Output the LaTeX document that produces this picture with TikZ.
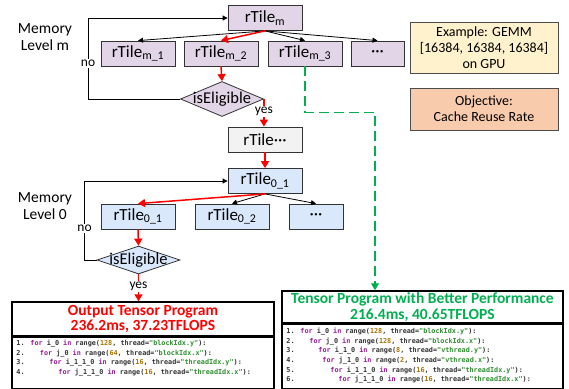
\documentclass[tikz,border=0pt]{standalone}
\usepackage{fontspec}
\setmainfont{Carlito}
\newfontfamily\codefont{DejaVu Sans Mono}
\usetikzlibrary{shapes.geometric,arrows.meta}
\definecolor{purp}{HTML}{E1D5E7}
\definecolor{lblue}{HTML}{DAE8FC}
\definecolor{lgray}{HTML}{F2F2F2}
\definecolor{lyellow}{HTML}{FFF2CC}
\definecolor{lorange}{HTML}{F8CBAD}
\definecolor{pgreen}{HTML}{00B050}
\definecolor{kwcol}{HTML}{9A1A98}
\definecolor{numcol}{HTML}{A87400}
\definecolor{strcol}{HTML}{2E8E30}
\definecolor{txtcol}{HTML}{333333}
\newcommand\kw[1]{\textcolor{kwcol}{#1}}
\newcommand\nm[1]{\textcolor{numcol}{#1}}
\newcommand\st[1]{\textcolor{strcol}{#1}}
\newcommand\codeln[3]{\makebox[14pt][l]{#1.}\hspace*{#2pt}#3}
\begin{document}
\begin{tikzpicture}[x=1pt,y=-1pt,
    tile/.style={draw=black!80,line width=0.8pt,minimum width=74pt,minimum height=25pt,
        inner sep=0pt,font=\fontsize{17}{20}\selectfont},
    elig/.style={diamond,draw=black!80,line width=0.8pt,minimum width=83pt,inner sep=0pt},
    dlabel/.style={font=\fontsize{16.5}{18}\selectfont},
    lbl/.style={font=\fontsize{13.5}{15}\selectfont,text=black,fill=white,inner sep=1pt},
    memlbl/.style={align=center,font=\fontsize{15.5}{17}\selectfont},
    note/.style={draw=black!70,line width=1pt,minimum width=148pt,align=center,
        font=\fontsize{14}{16}\selectfont},
    titlebox/.style={draw,line width=1.5pt,align=center,inner sep=0pt,
        font=\bfseries\fontsize{15.5}{15.5}\selectfont},
    codebox/.style={draw,line width=1.5pt,inner sep=0pt},
    code/.style={align=left,inner sep=0pt,text=txtcol,
        font=\codefont\bfseries\fontsize{6.8}{9.7}\selectfont},
    arr/.style={-{Triangle[length=5pt,width=5pt]},line width=0.8pt},
    redarr/.style={red,line width=1.5pt,-{Triangle[length=7pt,width=8pt]}}]
    \useasboundingbox (0,0) rectangle (569,388);

    % memory level m
    \node[memlbl] (memm) at (45,37) {Memory\\Level m};
    \node[tile,fill=purp] (tm) at (265,18) {rTile\textsubscript{m}};
    \node[tile,fill=purp] (tm1) at (138,53.5) {rTile\textsubscript{m\_1}};
    \node[tile,fill=purp] (tm2) at (221,53.5) {rTile\textsubscript{m\_2}};
    \node[tile,fill=purp] (tm3) at (305,53.5) {rTile\textsubscript{m\_3}};
    \node[tile,fill=purp,minimum width=53pt] (tmd) at (377.5,53.5) {···};
    \node[elig,fill=purp,minimum height=35pt,label={[dlabel]center:isEligible}] (elm) at (222,99) {};

    % memory level 0
    \node[tile,fill=lgray] (tdots) at (265,139.5) {rTile···};
    \node[memlbl] (mem0) at (45,206) {Memory\\Level 0};
    \node[tile,fill=lblue] (t01) at (265,181) {rTile\textsubscript{0\_1}};
    \node[tile,fill=lblue] (c01) at (138,216.5) {rTile\textsubscript{0\_1}};
    \node[tile,fill=lblue] (c02) at (232,216.5) {rTile\textsubscript{0\_2}};
    \node[tile,fill=lblue,minimum width=54pt] (c0d) at (316,216.5) {···};
    \node[elig,fill=lblue,minimum height=28pt,label={[dlabel]center:isEligible}] (el0) at (138.5,260) {};

    % side notes
    \node[note,fill=lyellow,minimum height=51pt] (ex) at (484,47.5)
        {Example: GEMM\\{[16384, 16384, 16384]}\\on GPU};
    \node[note,fill=lorange,minimum height=42pt] (obj) at (484,109)
        {Objective:\\Cache Reuse Rate};

    % output programs
    \node[titlebox,text=red,minimum width=262pt,minimum height=34pt] (out) at (143,319)
        {Output Tensor Program\\236.2ms, 37.23TFLOPS};
    \node[codebox,minimum width=262pt,minimum height=51pt,anchor=north] (outcode) at (out.south) {};
    \node[code,anchor=north west] (outtxt) at ([shift={(5,3)}]outcode.north west)
        {\codeln{1}{0}{\kw{for} i\_0 \kw{in} range(\nm{128}, thread=\st{"blockIdx.y"}):}\\
         \codeln{2}{9.5}{\kw{for} j\_0 \kw{in} range(\nm{64}, thread=\st{"blockIdx.x"}):}\\
         \codeln{3}{19}{\kw{for} i\_1\_1\_0 \kw{in} range(\nm{16}, thread=\st{"threadIdx.y"}):}\\
         \codeln{4}{28}{\kw{for} j\_1\_1\_0 \kw{in} range(\nm{16}, thread=\st{"threadIdx.x"}):}};

    \node[titlebox,text=pgreen,minimum width=281pt,minimum height=32pt] (better) at (422.5,307)
        {Tensor Program with Better Performance\\216.4ms, 40.65TFLOPS};
    \node[codebox,minimum width=281pt,minimum height=64pt,anchor=north] (bettercode) at (better.south) {};
    \node[code,anchor=north west] (bettertxt) at ([shift={(5,4)}]bettercode.north west)
        {\codeln{1}{0}{\kw{for} i\_0 \kw{in} range(\nm{128}, thread=\st{"blockIdx.y"}):}\\
         \codeln{2}{9}{\kw{for} j\_0 \kw{in} range(\nm{128}, thread=\st{"blockIdx.x"}):}\\
         \codeln{3}{18}{\kw{for} i\_1\_0 \kw{in} range(\nm{8}, thread=\st{"vthread.y"}):}\\
         \codeln{4}{22}{\kw{for} j\_1\_0 \kw{in} range(\nm{2}, thread=\st{"vthread.x"}):}\\
         \codeln{5}{30}{\kw{for} i\_1\_1\_0 \kw{in} range(\nm{16}, thread=\st{"threadIdx.y"}):}\\
         \codeln{6}{38}{\kw{for} j\_1\_1\_0 \kw{in} range(\nm{16}, thread=\st{"threadIdx.x"}):}};

    % connectors
    \draw[arr] (tm.south) -- (tm1.north);
    \draw[arr] (tm.south) -- (tm3.north);
    \draw[arr] (tm.south) -- (tmd.north);
    \draw[redarr] (tm.south) -- (tm2.north);
    \draw[redarr] (tm2.south) -- (elm.north);
    \draw[arr] (elm.west) -- ++(-92,0) |- node[pos=0.22,lbl] {no} (tm.west);
    \draw[redarr] (elm.east) -- node[pos=0.46,lbl] {yes} (elm.east |- tdots.north);
    \draw[redarr] (tdots.south) -- (t01.north);
    \draw[arr] (t01.south) -- (c02.north);
    \draw[arr] (t01.south) -- (c0d.north);
    \draw[redarr] (t01.south) -- (c01.north);
    \draw[redarr] (c01.south) -- (el0.north);
    \draw[arr] (el0.west) -- ++(-12,0) |- node[pos=0.2,lbl] {no} (t01.west);
    \draw[redarr] (el0.south) -- node[pos=0.46,lbl] {yes} (el0.south |- out.north);
    \draw[pgreen,line width=1.3pt,dash pattern=on 10pt off 5pt,-{Triangle[length=7pt,width=8pt]}]
        (tm3.south) -- ++(0,46) -| ([xshift=-47.5]better.north);
\end{tikzpicture}
\end{document}
